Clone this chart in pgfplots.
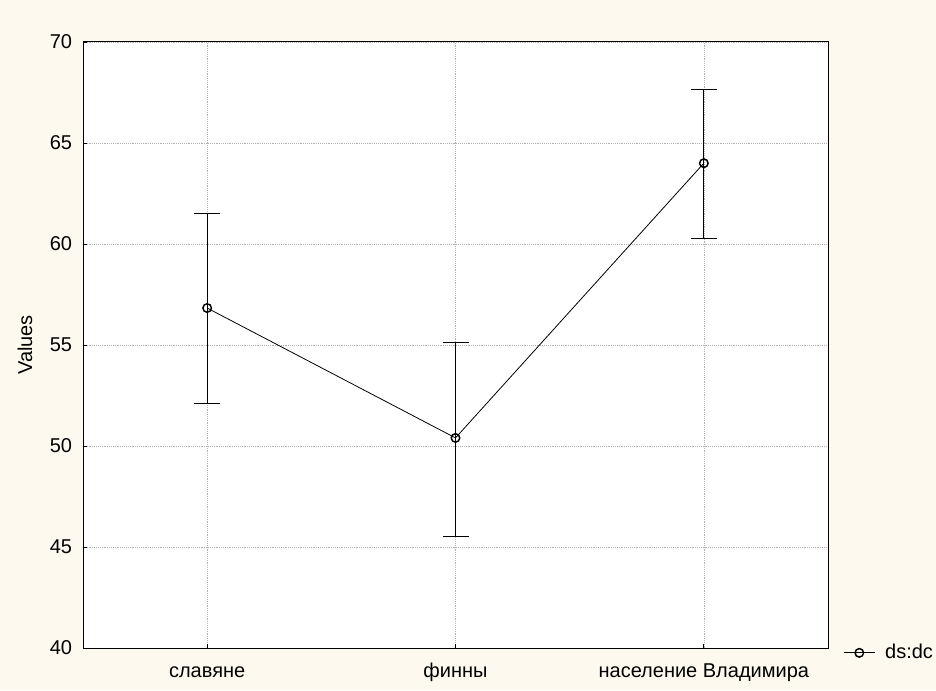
\documentclass[border=0pt]{standalone}
\usepackage{fontspec}
\setmainfont{Liberation Sans}
\usepackage{pgfplots}
\pgfplotsset{compat=1.18}
\usetikzlibrary{backgrounds}
\definecolor{bgcream}{RGB}{254,249,238}

\begin{document}
\fontsize{15}{17}\selectfont
\begin{tikzpicture}
\useasboundingbox (0,0) rectangle (702pt,517.5pt);
\begin{pgfonlayer}{background}
  \fill[bgcream] (0,0) rectangle (702pt,517.5pt);
\end{pgfonlayer}
\begin{axis}[
    at={(62.25pt,31.5pt)}, anchor=south west,
    scale only axis,
    width=558.75pt, height=454.5pt,
    xmin=-0.5, xmax=2.5,
    ymin=40, ymax=70,
    xtick={0,1,2},
    xticklabels={славяне,финны,население Владимира},
    ytick={40,45,...,70},
    xtick pos=bottom, ytick pos=left,
    major tick length=3pt,
    tick align=inside,
    tick style={black, line width=0.6pt},
    axis line style={line width=0.75pt},
    grid=major,
    grid style={densely dotted, gray!60, line width=0.5pt},
    axis background/.style={fill=white},
    ylabel={Values},
    ylabel style={at={(axis description cs:-0.078,0.5)}, anchor=center},
    tick label style={font=\fontsize{15}{17}\selectfont},
    xticklabel style={anchor=base, yshift=-21.75pt},
    yticklabel style={xshift=-3pt},
    label style={font=\fontsize{15}{17}\selectfont},
    /pgf/number format/assume math mode=true,
    legend style={at={(1.015,-0.008)}, anchor=west, draw=none, fill=none,
      font=\fontsize{15}{17}\selectfont},
    legend cell align=left,
    legend image code/.code={
      \path[draw=none, fill=none] (0pt,0pt) -- (29pt,0pt);
      \draw[mark repeat=2, mark phase=2] plot coordinates {(0pt,0pt) (11.6pt,0pt) (23.2pt,0pt)};
    },
]
\addplot+[black, line width=0.6pt, mark=o, mark size=3.2pt,
    mark options={fill=white, line width=1.1pt},
    error bars/.cd, y dir=both, y explicit,
    error bar style={line width=0.75pt, black},
    error mark options={rotate=90, mark size=9.75pt, line width=0.75pt, black}]
  coordinates {
    (0,56.83) += (0,4.70) -= (0,4.75)
    (1,50.40) += (0,4.70) -= (0,4.90)
    (2,64.00) += (0,3.67) -= (0,3.75)
  };
\addlegendentry{ds:dc}
\end{axis}
\end{tikzpicture}
\end{document}
